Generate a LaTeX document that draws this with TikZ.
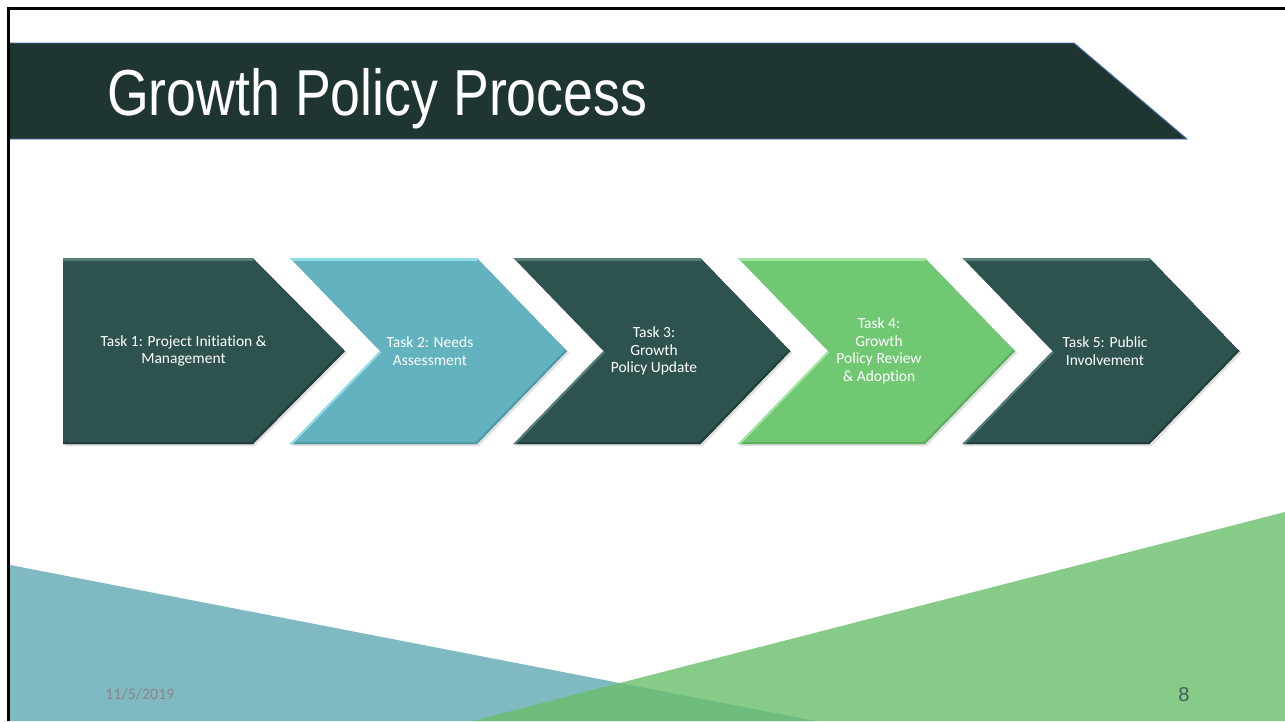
\documentclass[tikz,border=0pt]{standalone}
\usepackage{fontspec}
\setmainfont{Carlito}[Ligatures=NoCommon]
\newfontfamily\titlefont{Liberation Sans}
\newfontfamily\numfont{Liberation Sans}
\definecolor{banner}{HTML}{1E3532}
\definecolor{bannerline}{HTML}{4A70A8}
\definecolor{darkc}{HTML}{2E524E}
\definecolor{darkhi}{HTML}{557F79}
\definecolor{darklo}{HTML}{223E3B}
\definecolor{tealc}{HTML}{62B3BF}
\definecolor{tealhi}{HTML}{8FDDE8}
\definecolor{teallo}{HTML}{4E9AA6}
\definecolor{grnc}{HTML}{70C873}
\definecolor{grnhi}{HTML}{A0E6A0}
\definecolor{grnlo}{HTML}{5BAF5E}
\definecolor{bgteal}{HTML}{7FBAC3}
\definecolor{bggreen}{HTML}{6ABE6B}
\definecolor{dategray}{HTML}{8C8585}
\definecolor{pagenum}{HTML}{3F5F5C}
\tikzset{
  tasktext/.style={text=white, align=center, inner sep=0pt, font=\fontsize{15.5}{17.5}\selectfont},
  chevshadow/.style={fill=black, opacity=0.12},
}
% #1 = left x, #2 fill, #3 highlight, #4 lowlight
\newcommand\chevnotch[4]{%
  \fill[chevshadow] ({#1+2},260) -- ({#1+189},260) -- ({#1+279},353) -- ({#1+189},446) -- ({#1+2},446) -- ({#1+92},353) -- cycle;
  \begin{scope}
    \clip ({#1},258) -- ({#1+187},258) -- ({#1+277},351) -- ({#1+187},444) -- ({#1},444) -- ({#1+90},351) -- cycle;
    \fill[#2] ({#1},258) -- ({#1+187},258) -- ({#1+277},351) -- ({#1+187},444) -- ({#1},444) -- ({#1+90},351) -- cycle;
    \draw[#4, line width=4] ({#1+277},351) -- ({#1+187},444) -- ({#1},444);
    \draw[#3, line width=5] ({#1},258) -- ({#1+187},258);
    \draw[#3, line width=4] ({#1+90},351) -- ({#1},444);
  \end{scope}}
\begin{document}
\begin{tikzpicture}[x=1pt,y=-1pt]
\useasboundingbox (0,0) rectangle (1285,721);
\fill[white] (0,0) rectangle (1285,721);
% background triangles
\fill[bgteal] (10,565) -- (816,721) -- (10,721) -- cycle;
\fill[bggreen, fill opacity=0.8] (1285,512) -- (1285,721) -- (472,721) -- cycle;
% frame
\draw[black, line width=2.4] (8.5,721) -- (8.5,8.5) -- (1285,8.5);
% banner
\path[fill=banner, draw=bannerline, line width=0.9] (10,43) -- (1074,43) -- (1187,139) -- (10,139);
\node[anchor=base west, text=white, inner sep=0pt, font=\titlefont\fontsize{65}{70}\selectfont] (title) at (107,115) {\scalebox{0.826}[1]{Growth Policy Process}};
% chevron 1
\fill[chevshadow] (65,260) -- (255,260) -- (347,353) -- (255,446) -- (65,446) -- cycle;
\begin{scope}
  \clip (63,258) -- (253,258) -- (345,351) -- (253,444) -- (63,444) -- cycle;
  \fill[darkc] (63,258) -- (253,258) -- (345,351) -- (253,444) -- (63,444) -- cycle;
  \draw[darklo, line width=4] (345,351) -- (253,444) -- (63,444);
  \draw[darkhi, line width=5] (63,258) -- (253,258);
\end{scope}
\chevnotch{290}{tealc}{tealhi}{teallo}
\chevnotch{513.5}{darkc}{darkhi}{darklo}
\chevnotch{738}{grnc}{grnhi}{grnlo}
\chevnotch{962.5}{darkc}{darkhi}{darklo}
% texts
\node[tasktext] (t1) at (183.5,351) {Task 1: Project Initiation \&\\Management};
\node[tasktext] (t2) at (430,351) {Task 2: Needs\\Assessment};
\node[tasktext] (t3) at (654,351) {Task 3:\\Growth\\Policy Update};
\node[tasktext] (t4) at (879,351) {Task 4:\\Growth\\Policy Review\\\& Adoption};
\node[tasktext] (t5) at (1105,351) {Task 5: Public\\Involvement};
% footer
\node[text=dategray, inner sep=0pt, font=\fontsize{16}{18}\selectfont] (date) at (140,694) {11/5/2019};
\node[text=pagenum, inner sep=0pt, font=\numfont\fontsize{20}{22}\selectfont] (page) at (1184,694.5) {8};
\end{tikzpicture}
\end{document}
